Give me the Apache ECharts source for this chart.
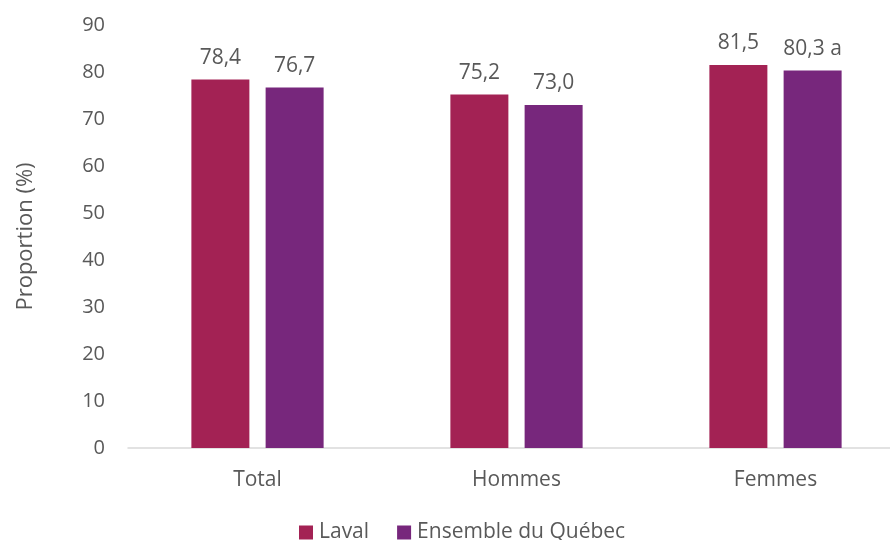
<!DOCTYPE html>
<html>
<head>
<meta charset="utf-8">
<script src="https://cdn.jsdelivr.net/npm/echarts@6/dist/echarts.min.js"></script>
<style>
html,body{margin:0;padding:0;background:#fff;}
#chart{width:890px;height:540px;}
</style>
</head>
<body>
<div id="chart"></div>
<script>
const categories = ['Total', 'Hommes', 'Femmes'];
const lavalValues = [78.4, 75.2, 81.5];
const quebecValues = [76.7, 73.0, 80.3];
const quebecSuffix = ['', '', ' a'];
const seriesNames = ['Laval', 'Ensemble du Québec'];
const yTicks = [0, 10, 20, 30, 40, 50, 60, 70, 80, 90];

const FONT = '"Open Sans"';
const TXT = '#595959';
const FS = 21;
const fmt = v => v.toFixed(1).replace('.', ',');

const chart = echarts.init(document.getElementById('chart'));
chart.setOption({
  animation: false,
  textStyle: { fontFamily: FONT },
  grid: { left: 128, width: 777, top: 25, bottom: 92, containLabel: false, outerBoundsMode: 'none' },
  legend: {
    top: 517,
    left: 294,
    itemWidth: 14, itemHeight: 14, itemGap: 28,
    icon: 'rect',
    textStyle: { color: TXT, fontSize: FS, fontFamily: FONT, padding: [0, 0, 0, 1] },
    data: seriesNames
  },
  xAxis: {
    type: 'category',
    data: categories,
    axisLine: { lineStyle: { color: '#d9d9d9', width: 1.5 } },
    axisTick: { show: false },
    axisLabel: { color: TXT, fontSize: FS, margin: 22, fontFamily: FONT }
  },
  yAxis: {
    type: 'value',
    min: yTicks[0], max: yTicks[yTicks.length - 1], interval: 10,
    name: 'Proportion (%)',
    nameLocation: 'middle',
    nameGap: 91,
    nameTextStyle: { color: TXT, fontSize: 22, fontFamily: FONT },
    splitLine: { show: false },
    axisLine: { show: false },
    axisTick: { show: false },
    axisLabel: { color: TXT, fontSize: 20, margin: 23, fontFamily: FONT }
  },
  series: [
    {
      name: seriesNames[0], type: 'bar', data: lavalValues,
      barWidth: 58, barGap: '28%',
      itemStyle: { color: '#A32254' },
      label: { show: true, position: 'top', distance: 11, color: TXT, fontSize: FS, fontFamily: FONT,
        formatter: p => fmt(p.value) }
    },
    {
      name: seriesNames[1], type: 'bar', data: quebecValues,
      barWidth: 58,
      itemStyle: { color: '#77277C' },
      label: { show: true, position: 'top', distance: 11, color: TXT, fontSize: FS, fontFamily: FONT,
        formatter: p => fmt(p.value) + quebecSuffix[p.dataIndex] }
    }
  ]
});
</script>
</body>
</html>
